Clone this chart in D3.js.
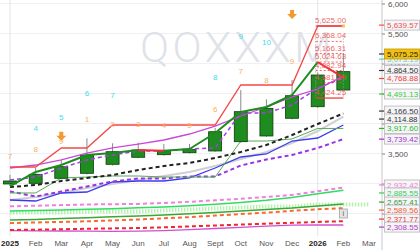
<!DOCTYPE html>
<html>
<head>
<meta charset="utf-8">
<script src="https://d3js.org/d3.v7.min.js"></script>
<style>
  body { margin: 0; background: #fff; }
  svg { display: block; font-family: "Liberation Sans", Arial, sans-serif; }
</style>
</head>
<body>
<svg width="420" height="250"></svg>
<script>
// months on the x axis (last one has no candle)
const months = ["2025-01","2025-02","2025-03","2025-04","2025-05","2025-06","2025-07",
  "2025-08","2025-09","2025-10","2025-11","2025-12","2026-01","2026-02","2026-03"];
const monthLabels = ["2025","Feb","Mar","Apr","May","Jun","Jul","Aug","Sept","Oct","Nov","Dec","2026","Feb","Mar"];

// monthly candles
const open  = [2992, 3003, 3087, 3170, 3320, 3437, 3480, 3513, 3542, 3697, 3792, 4087, 4280, 4558];
const close = [3042, 3153, 3280, 3475, 3530, 3558, 3547, 3570, 3863, 4197, 4253, 4463, 4808, 4864.5];
const high  = [3142, 3258, 3392, 3753, 3670, 3680, 3658, 3658, 3925, 4558, 4403, 4725, 4850, 5175];
const low   = [2960, 2985, 3070, 3150, 3300, 3420, 3465, 3500, 3530, 3680, 3780, 4070, 4260, 4540];

// overlay lines
const resist      = [3275, 3275, 3592, 3592, 3975, 3975, 3975, 3975, 3975, 4642, 4642, 4642, 5625, 5625];
const trend       = [2958, 3192, 3308, 3475, 3508, 3558, 3547, 3575, 3842, 4192, 4275, 4475, 5024.63, 4768.88];
const violetMA    = [3258, 3308, 3392, 3508, 3592, 3658, 3725, 3825, 3958, 4125, 4275, 4442, 4575, 4790];
const violetDash  = [3058, 3108, 3258, 3392, 3475, 3542, 3542, 3575, 3592, 4175, 4175, 4308, 4592, 4758];
const blackDash   = [2942, 2975, 3042, 3092, 3142, 3225, 3292, 3342, 3425, 3525, 3642, 3808, 3992, 4166.5];
const grayLine    = [2725, 2775, 2842, 2925, 2992, 3058, 3125, 3192, 3292, 3408, 3525, 3675, 3875, 4114.88];
const thinGreen   = [2842, 2842, 3092, 3108, 3125, 3125, 3108, 3108, 3108, 3708, 3708, 3742, 3917.6, 3917.6];
const blueLine    = [2725, 2708, 2842, 2858, 3025, 3042, 3042, 3092, 3258, 3442, 3492, 3708, 3758, 3975];
const purpleDash  = [2867, 2783, 2867, 2950, 3033, 3083, 3083, 3117, 3117, 3300, 3400, 3475, 3592, 3739.42];
const pinkDash    = [2620, 2630, 2640, 2650, 2655, 2660, 2675, 2695, 2720, 2745, 2775, 2810, 2870, 2932.42];
const brightGreen = [2540, 2550, 2560, 2570, 2580, 2595, 2610, 2630, 2655, 2685, 2720, 2765, 2830, 2885.55];
const cloudBand   = [2517, 2517, 2517, 2533, 2533, 2533, 2550, 2567, 2583, 2600, 2617, 2617, 2650, 2650, 2650];
const darkGreen   = [2390, 2400, 2415, 2430, 2445, 2460, 2475, 2495, 2515, 2540, 2565, 2590, 2625, 2657.41];
const orangeDash  = [2340, 2350, 2360, 2370, 2385, 2400, 2420, 2440, 2465, 2490, 2515, 2545, 2570, 2589.56];
const redDash     = [2225, 2230, 2238, 2245, 2252, 2258, 2270, 2285, 2300, 2315, 2330, 2345, 2360, 2371.77];
const magentaLine = [2215, 2212, 2208, 2205, 2203, 2205, 2215, 2230, 2250, 2270, 2290, 2305, 2312, 2308.55];

// sequential counts
const setupCount = [7, 8, 9, 1, 2, 3, 4, 5, 6, 7, 8, 9, null, null];
const countdown  = [null, 4, 5, 6, 7, null, null, null, 8, 9, 10, null, null, null];
const arrowPrice = [null, null, 3780, null, null, null, null, null, null, null, null, 5810, null, null];

// retracement levels on the last two months
const fibLevels = [5625.00, 5368.04, 5166.31, 5024.63, 4882.94, 4681.19, 4424.25];

// right side value tags
const tagValues = [5639.57, 5073.19, 4864.50, 4768.88, 4491.13, 4166.50, 4114.88, 3917.60,
  3739.42, 2932.42, 2885.55, 2657.41, 2589.56, 2371.77, 2308.55];
const lastPrice = 5075.25;

const tagColors = ["#f05050", "#55ccbb", "#333", "#f04040", "#33cc33", "#333", "#333", "#22bb22",
  "#a033d0", "#f080d0", "#33cc55", "#339933", "#f06030", "#f03030", "#b040c0"];

const svg = d3.select("svg");
const W = 420, H = 250, axisX = 382;

const x = d3.scalePoint().domain(months).range([10, 369]);
const y = d3.scaleLinear().domain([2500, 6000]).range([213.5, 3.5]);

// grid
const grid = svg.append("g");
grid.selectAll("line.h")
  .data(d3.range(2500, 6001, 500))
  .enter().append("line")
  .attr("x1", 0).attr("x2", axisX)
  .attr("y1", d => y(d)).attr("y2", d => y(d))
  .attr("stroke", "#f0f0f2");
grid.selectAll("line.v")
  .data(["2025-01", "2026-01"])
  .enter().append("line")
  .attr("x1", d => x(d)).attr("x2", d => x(d))
  .attr("y1", 0).attr("y2", 236)
  .attr("stroke", "#e4e4e8");

// watermark
svg.append("text")
  .attr("x", 140).attr("y", 62)
  .attr("font-family", "Roboto, 'Liberation Sans', sans-serif")
  .attr("font-weight", 300)
  .attr("font-size", 43)
  .attr("letter-spacing", 3.5)
  .attr("fill", "#dfe2e9")
  .text("QOXXXM");

const line = d3.line().x((d, i) => x(months[i])).y(d => y(d));

function drawLine(values, color, width, dash) {
  svg.append("path")
    .attr("d", line(values))
    .attr("fill", "none")
    .attr("stroke", color)
    .attr("stroke-width", width)
    .attr("stroke-dasharray", dash || null);
}

// long term lines (bottom group)
drawLine(cloudBand, "#b4f2ac", 4, "1.5,1.5");
drawLine(magentaLine, "#d050d0", 1.3);
drawLine(redDash, "#f02828", 2, "4,3");
drawLine(orangeDash, "#f86a30", 2, "4,3");
drawLine(darkGreen, "#38a838", 1.5);
drawLine(brightGreen, "#30dd60", 1.5);
drawLine(pinkDash, "#f080e0", 2, "4,3");

// mid lines
drawLine(grayLine, "#d0d0d0", 2);
drawLine(blueLine, "#3a3af0", 1.3);
drawLine(purpleDash, "#9a30e8", 2, "4,3");
drawLine(thinGreen, "#55aa55", 1);
drawLine(blackDash, "#222", 2, "4,3");

// candles
const candles = svg.append("g");
candles.selectAll("line")
  .data(open)
  .enter().append("line")
  .attr("x1", (d, i) => x(months[i])).attr("x2", (d, i) => x(months[i]))
  .attr("y1", (d, i) => y(high[i])).attr("y2", (d, i) => y(low[i]))
  .attr("stroke", "#8a8a8a");
candles.selectAll("rect")
  .data(open)
  .enter().append("rect")
  .attr("x", (d, i) => x(months[i]) - 6.5)
  .attr("width", 13)
  .attr("y", (d, i) => y(Math.max(d, close[i])))
  .attr("height", (d, i) => Math.abs(y(d) - y(close[i])))
  .attr("fill", "#1f8c1f")
  .attr("stroke", "#0c3c0c")
  .attr("stroke-width", 0.8);

// upper lines over candles
drawLine(violetDash, "#a040e0", 1.5, "4,3");
drawLine(violetMA, "#c848d8", 1.3);
drawLine(resist, "#f44848", 1.3);

// trend line, red where it turns down
for (let i = 1; i < trend.length; i++) {
  svg.append("line")
    .attr("x1", x(months[i - 1])).attr("y1", y(trend[i - 1]))
    .attr("x2", x(months[i])).attr("y2", y(trend[i]))
    .attr("stroke", trend[i] < trend[i - 1] ? "#f03030" : "#1c8c1c")
    .attr("stroke-width", 2);
}

// retracement box
const fx0 = x("2026-01") - 2, fx1 = x("2026-02");
const fib = svg.append("g");
fib.selectAll("line.lvl")
  .data(fibLevels)
  .enter().append("line")
  .attr("x1", fx0).attr("x2", fx1)
  .attr("y1", d => y(d)).attr("y2", d => y(d))
  .attr("stroke", "#f04040")
  .attr("stroke-width", (d, i) => (i === 0 || i === fibLevels.length - 1) ? 1.3 : 0.8)
  .attr("stroke-dasharray", (d, i) => (i === 0 || i === fibLevels.length - 1) ? null : "2,2");
fib.selectAll("line.edge")
  .data([fx0, fx1])
  .enter().append("line")
  .attr("x1", d => d).attr("x2", d => d)
  .attr("y1", y(fibLevels[1]) - 6).attr("y2", y(fibLevels[fibLevels.length - 1]))
  .attr("stroke", "#999")
  .attr("stroke-dasharray", "1,2");
fib.selectAll("text")
  .data(fibLevels)
  .enter().append("text")
  .attr("x", (fx0 + fx1) / 2 + 1)
  .attr("y", d => y(d) - 3)
  .attr("text-anchor", "middle")
  .attr("font-size", 8)
  .attr("fill", "#f05050")
  .attr("fill-opacity", 0.9)
  .text(d => d3.format(",.2f")(d));
svg.append("rect")
  .attr("x", fx1 - 1.5).attr("y", y(resist[13]) - 1.5)
  .attr("width", 3).attr("height", 3)
  .attr("fill", "#f8c050");

// counts above the candles
const counts = svg.append("g").attr("font-size", 8).attr("text-anchor", "middle");
setupCount.forEach((d, i) => {
  if (d === null) return;
  counts.append("text")
    .attr("x", x(months[i]))
    .attr("y", y(high[i]) - 16)
    .attr("fill", "#f8b060")
    .text(d);
});
countdown.forEach((d, i) => {
  if (d === null) return;
  counts.append("text")
    .attr("x", x(months[i]))
    .attr("y", y(high[i]) - 26 - 2.8 * d)
    .attr("fill", "#40dde8")
    .text(d);
});
arrowPrice.forEach((d, i) => {
  if (d === null) return;
  const cx = x(months[i]), cy = y(d);
  svg.append("path")
    .attr("d", `M${cx - 2},${cy - 5} h4 v4 h3 l-5,5 l-5,-5 h3 z`)
    .attr("fill", "#f29a30");
});

// right axis
svg.append("line")
  .attr("x1", axisX).attr("x2", axisX)
  .attr("y1", 0).attr("y2", H)
  .attr("stroke", "#c8c8cc");
const yAxis = svg.append("g")
  .attr("transform", `translate(${axisX},0)`)
  .call(d3.axisRight(y).tickValues(d3.range(2500, 6001, 500)).tickSize(3).tickPadding(3).tickFormat(d3.format(",")));
yAxis.select(".domain").remove();
yAxis.selectAll("line").attr("stroke", "#888");
yAxis.selectAll("text").attr("font-size", 8).attr("fill", "#555").attr("font-family", "inherit");

// spread tags apart so they do not sit on each other
const tags = tagValues.map((v, i) => ({v, color: tagColors[i], pos: y(v)}));
for (let k = 0; k < 40; k++) {
  tags.sort((a, b) => a.pos - b.pos);
  for (let i = 1; i < tags.length; i++) {
    const gap = tags[i].pos - tags[i - 1].pos;
    if (gap < 8) {
      const shift = (8 - gap) / 2;
      tags[i - 1].pos -= shift;
      tags[i].pos += shift;
    }
  }
}
tags.sort((a, b) => b.v - a.v);

function drawTag(t, fill, stroke, textColor) {
  const g = svg.append("g").attr("transform", `translate(0,${t.pos})`);
  g.append("line")
    .attr("x1", axisX - 3).attr("x2", axisX + 2)
    .attr("stroke", t.color).attr("stroke-width", 1.2);
  g.append("rect")
    .attr("x", axisX + 2.5).attr("y", -5)
    .attr("width", 35).attr("height", 10)
    .attr("fill", fill).attr("stroke", stroke).attr("stroke-width", 0.8);
  g.append("text")
    .attr("x", axisX + 5).attr("y", 3)
    .attr("font-size", 8)
    .attr("fill", textColor)
    .text(d3.format(",.2f")(t.v));
}
tags.forEach(t => drawTag(t, "#f5f5f7", "#b8b8bc", t.color));

// last price tag on top
drawTag({v: lastPrice, color: "#333", pos: y(lastPrice) - 5}, "#f2c010", "#c89a00", "#222");

// bottom month labels
svg.selectAll("text.month")
  .data(months)
  .enter().append("text")
  .attr("x", d => x(d))
  .attr("y", 246)
  .attr("text-anchor", "middle")
  .attr("font-size", 8)
  .attr("font-weight", (d, i) => d.endsWith("-01") ? "bold" : "normal")
  .attr("fill", (d, i) => d.endsWith("-01") ? "#222" : "#555")
  .text((d, i) => monthLabels[i]);

// info badge
svg.append("rect")
  .attr("x", x("2026-02") - 4).attr("y", 209)
  .attr("width", 8).attr("height", 9)
  .attr("fill", "#e4e4e6").attr("stroke", "#999").attr("stroke-width", 0.7);
svg.append("text")
  .attr("x", x("2026-02")).attr("y", 216)
  .attr("text-anchor", "middle")
  .attr("font-size", 7).attr("fill", "#555")
  .text("i");
</script>
</body>
</html>
